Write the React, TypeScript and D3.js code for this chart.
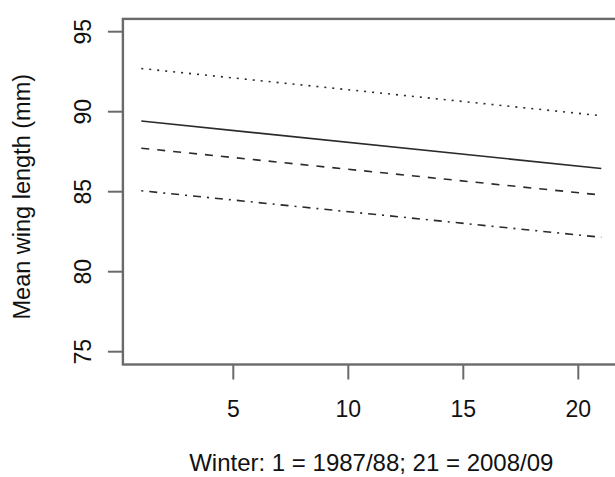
import React from "react";
import * as d3 from "d3";

// winters at the ends of each fitted line
const winters = [1, 21];
const upperLine = [92.7, 89.75];
const meanLine = [89.42, 86.45];
const lowerLine = [87.72, 84.79];
const lowestLine = [85.06, 82.15];

const xTicks = [5, 10, 15, 20];
const yTicks = [75, 80, 85, 90, 95];

const series = [
  { name: "upper", values: upperLine, dash: "2 6" },
  { name: "mean", values: meanLine, dash: null },
  { name: "lower", values: lowerLine, dash: "8 8" },
  { name: "lowest", values: lowestLine, dash: "2 6 8 6" },
];

const W = 615;
const H = 477;
const font = "'Liberation Sans', Arial, sans-serif";

export default function App() {
  // R style limits: 4% padding on both ends
  const xPad = (21 - 1) * 0.04;
  const yPad = (95 - 75) * 0.04;
  const x = d3.scaleLinear().domain([1 - xPad, 21 + xPad]).range([122.9, 619.7]);
  const y = d3.scaleLinear().domain([75 - yPad, 95 + yPad]).range([364.5, 18.9]);

  const [x0, x1] = x.range();
  const [y0, y1] = y.range();
  const tick = 15;

  const line = d3
    .line<number>()
    .x((d, i) => x(winters[i]))
    .y((d) => y(d));

  return (
    <div style={{ position: "absolute", left: 0, top: 0 }}>
      <svg width={W} height={H} style={{ display: "block", background: "#fff" }}>
        {series.map((s) => (
          <path
            key={s.name}
            d={line(s.values) || ""}
            fill="none"
            stroke="#2a2a2a"
            strokeWidth={1.6}
            strokeDasharray={s.dash || undefined}
          />
        ))}

        {/* box */}
        <rect
          x={x0}
          y={y1}
          width={x1 - x0}
          height={y0 - y1}
          fill="none"
          stroke="#6a6a6a"
          strokeWidth={2.4}
        />

        {/* y axis */}
        <g fontFamily={font} fontSize={23} fill="#111">
          {yTicks.map((t) => (
            <g key={t}>
              <line x1={x0 - tick} x2={x0} y1={y(t)} y2={y(t)} stroke="#6a6a6a" strokeWidth={2} />
              <text
                transform={`translate(90.5,${y(t)}) rotate(-90)`}
                textAnchor="middle"
              >
                {t}
              </text>
            </g>
          ))}
          <text
            transform={`translate(30,${(y0 + y1) / 2 + 5}) rotate(-90)`}
            textAnchor="middle"
            fontSize={23.5}
          >
            Mean wing length (mm)
          </text>
        </g>

        {/* x axis */}
        <g fontFamily={font} fontSize={23} fill="#111">
          {xTicks.map((t) => (
            <g key={t}>
              <line x1={x(t)} x2={x(t)} y1={y0} y2={y0 + tick} stroke="#6a6a6a" strokeWidth={2} />
              <text x={x(t)} y={417} textAnchor="middle">
                {t}
              </text>
            </g>
          ))}
          <text x={(x0 + x1) / 2} y={471} textAnchor="middle" fontSize={24}>
            Winter: 1 = 1987/88; 21 = 2008/09
          </text>
        </g>
      </svg>
    </div>
  );
}
